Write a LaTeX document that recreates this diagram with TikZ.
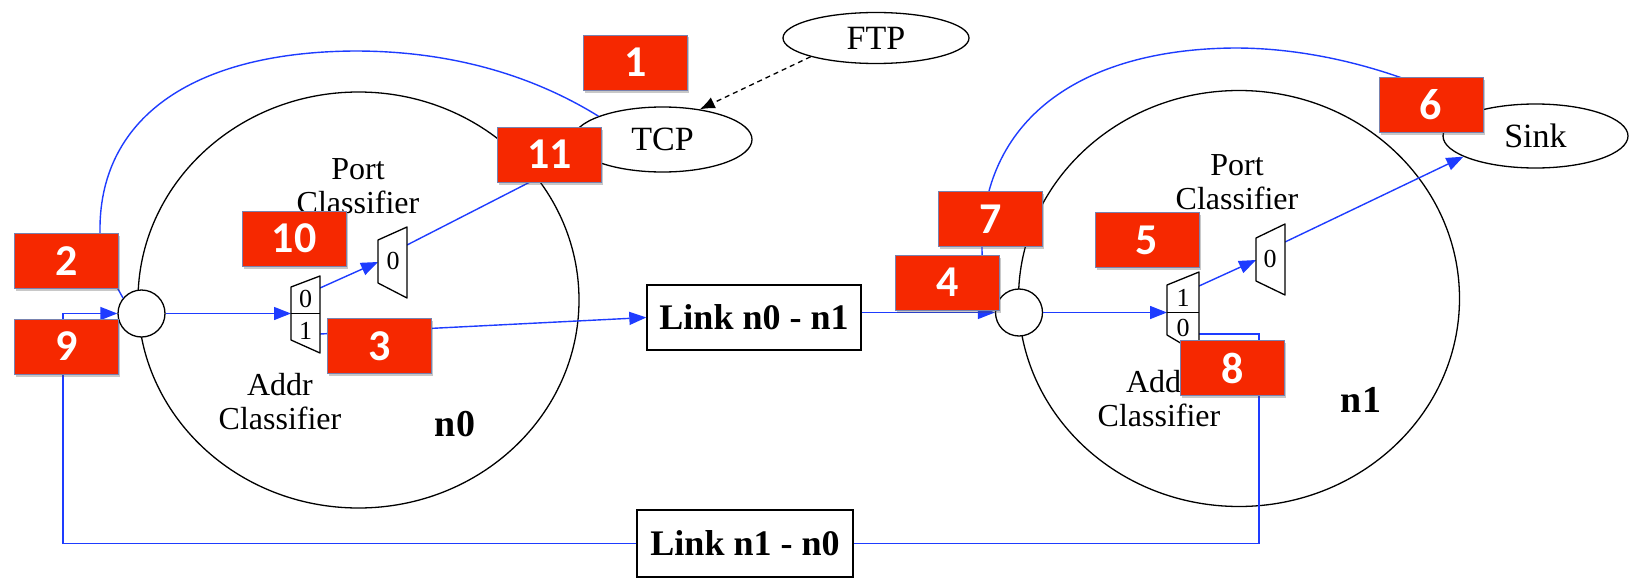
\documentclass[tikz,border=0pt]{standalone}
\usepackage{fontspec}
\setmainfont{Liberation Serif}
\newfontfamily\numfont{Carlito}
\usetikzlibrary{shapes.geometric,arrows.meta,shadows}
\definecolor{flowblue}{RGB}{30,60,255}
\definecolor{tagred}{RGB}{246,40,0}
\definecolor{tagedge}{RGB}{120,130,175}
\begin{document}
\begin{tikzpicture}[x=1pt,y=-1pt,
  host/.style={draw, ellipse, line width=1.3pt, minimum width=441pt, minimum height=416pt, inner sep=0pt},
  iface/.style={draw, circle, fill=white, line width=1.3pt, minimum size=47pt, inner sep=0pt},
  agent/.style={draw, ellipse, line width=1.3pt, inner sep=0pt, font=\fontsize{34}{36}\selectfont},
  linkbox/.style={draw, line width=1.4pt, inner sep=0pt, font=\bfseries\fontsize{36}{40}\selectfont},
  flow/.style={draw=flowblue, line width=1.4pt},
  flowarrow/.style={flow, -{Triangle[length=17pt,width=13pt]}, flowblue},
  clabel/.style={align=center, inner sep=0pt, font=\fontsize{32}{34}\selectfont},
  blabel/.style={inner sep=0pt, font=\bfseries\fontsize{38}{40}\selectfont},
  slot/.style={inner sep=0pt, font=\fontsize{26}{26}\selectfont},
  mux/.style={draw, fill=white, line width=1.3pt, line join=round},
  tag/.style={fill=tagred, draw=tagedge, line width=0.6pt, minimum width=104pt, minimum height=55pt,
    inner sep=0pt, text=white, font=\numfont\bfseries\fontsize{44}{44}\selectfont,
    drop shadow={opacity=0.3, shadow xshift=1.5pt, shadow yshift=-2.5pt, fill=black!70}}
]
\fill[white] (0,0) rectangle (1629,578);
\useasboundingbox (0,0) rectangle (1629,578);

% the two hosts
\node[host] (n0c) at (358.5,300) {};
\node[host] (n1c) at (1239,298.5) {};

% agents
\node[agent, minimum width=186pt, minimum height=51pt] (ftp) at (876,38) {FTP};
\node[agent, minimum width=179pt, minimum height=65pt] (tcp) at (662.5,139.5) {TCP};
\node[agent, minimum width=185pt, minimum height=64pt] (sink) at (1535.5,136) {Sink};

% links
\node[linkbox, minimum width=214pt, minimum height=65pt] (l01) at (754,317.5) {Link n0 - n1};
\node[linkbox, minimum width=216pt, minimum height=67pt] (l10) at (745,543.5) {Link n1 - n0};

% classifier text and host names
\node[clabel] (pc0) at (358,186) {Port\\Classifier};
\node[clabel] (ac0) at (280,402) {Addr\\Classifier};
\node[blabel] (lab0) at (455,424) {n0};
\node[clabel] (pc1) at (1237,182) {Port\\Classifier};
\node[clabel] (ac1) at (1159,399) {Addr\\Classifier};
\node[blabel] (lab1) at (1361,400) {n1};

% attachment points of the classifiers
\coordinate (a0in) at (291,313.5);
\coordinate (a0o0) at (320,288);
\coordinate (a0o1) at (320,334);
\coordinate (p0in) at (378,262);
\coordinate (p0out) at (407,245);
\coordinate (a1in) at (1167,312.5);
\coordinate (a1o1) at (1199,286);
\coordinate (a1o0) at (1199,334);
\coordinate (p1in) at (1256,260);
\coordinate (p1out) at (1285,242);
\coordinate (r1) at (1259,334);
\coordinate (lft) at (63,313.5);
\coordinate (k0) at (100,233);
\coordinate (top0) at (355,51);
\coordinate (k1) at (982,250);
\coordinate (top1) at (1235,48);

% entry points
\node[iface] (in0) at (141.5,313.5) {};
\node[iface] (in1) at (1019,312.5) {};

% packet flow
\draw[flowarrow] (in0) -- (a0in);
\draw[flowarrow] (a0o0) -- (p0in);
\draw[flowarrow] (p0out) -- (tcp.191);
\draw[flowarrow] (a0o1) -- (l01.west);
\draw[flowarrow] (l01.east |- in1) -- (in1);
\draw[flowarrow] (in1) -- (a1in);
\draw[flowarrow] (a1o1) -- (p1in);
\draw[flowarrow] (p1out) -- (sink.196);
\draw[flow] (a1o0) -- (r1) |- (l10);
\draw[flowarrow] (l10) -| (lft) -- (in0);
\draw[flow] (in0.140) .. controls (110,275) and (100,255) .. (k0)
  .. controls (98,120) and (190,52) .. (top0)
  .. controls (460,51) and (540,80) .. (tcp.160);
\draw[flow] (in1.160) .. controls (990,290) and (982,270) .. (k1)
  .. controls (980,120) and (1080,49) .. (top1)
  .. controls (1330,48) and (1420,80) .. (sink.157);

% agent attachment
\draw[line width=1.3pt, dash pattern=on 5pt off 4pt, -{Latex[length=15pt,width=12pt]}] (ftp.196) -- (tcp.39);

% classifiers of n0
\draw[mux] (291,287) -- (320,276) -- (320,353) -- (291,340) -- cycle;
\draw[line width=1.3pt] (291,313.5) -- (320,313.5);
\node[slot] (a0s0) at (305.5,299) {0};
\node[slot] (a0s1) at (305.5,331) {1};
\draw[mux] (378,240) -- (407,227) -- (407,298) -- (378,283) -- cycle;
\node[slot] (p0s0) at (393,261) {0};

% classifiers of n1
\draw[mux] (1167,285) -- (1199,272) -- (1199,354) -- (1167,335) -- cycle;
\draw[line width=1.3pt] (1167,312.5) -- (1199,312.5);
\node[slot] (a1s1) at (1183,298) {1};
\node[slot] (a1s0) at (1183,328) {0};
\draw[mux] (1256,238) -- (1285,224) -- (1285,295) -- (1256,281) -- cycle;
\node[slot] (p1s0) at (1270,259) {0};

% step numbers
\node[tag] (t1) at (635.5,62.5) {1};
\node[tag] (t2) at (66.5,261) {2};
\node[tag] (t3) at (379.5,346) {3};
\node[tag] (t4) at (947.5,282.5) {4};
\node[tag] (t5) at (1147,240) {5};
\node[tag] (t6) at (1431,105) {6};
\node[tag] (t7) at (990.5,219) {7};
\node[tag] (t8) at (1232.5,368) {8};
\node[tag] (t9) at (66.5,346.5) {9};
\node[tag] (t10) at (294,238.5) {10};
\node[tag] (t11) at (549.5,154.5) {11};
\end{tikzpicture}
\end{document}
